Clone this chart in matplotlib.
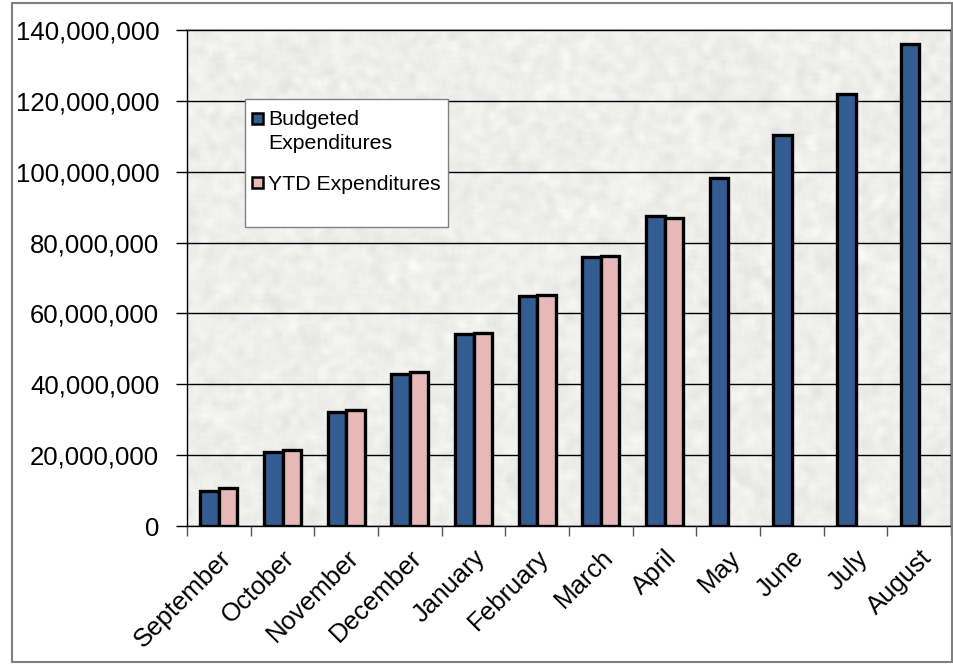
import numpy as np
import matplotlib.pyplot as plt
from matplotlib.patches import Rectangle
from matplotlib.ticker import FuncFormatter, FixedLocator

plt.rcParams['font.family'] = ['Liberation Sans', 'DejaVu Sans']

months = ['September', 'October', 'November', 'December', 'January', 'February',
          'March', 'April', 'May', 'June', 'July', 'August']
budgeted = [9.9e6, 20.9e6, 32.2e6, 42.9e6, 54.2e6, 64.9e6,
            75.9e6, 87.5e6, 98.2e6, 110.4e6, 121.9e6, 136.0e6]
ytd = [10.7e6, 21.4e6, 32.7e6, 43.5e6, 54.5e6, 65.2e6, 76.2e6, 86.9e6]
legend_labels = ['Budgeted', 'Expenditures', 'YTD Expenditures']

blue = '#335d92'
pink = '#e6b8b8'

W, H = 954, 664
fig = plt.figure(figsize=(W / 100, H / 100), dpi=100)
ax = fig.add_axes([0.196, 0.2078, 0.801, 0.747])


def px(x, y):
    # pixel position (from top-left) -> figure fraction
    return x / W, 1 - y / H


# outer frame around the whole chart
fig.patches.append(Rectangle((12 / W, 2 / H), 940 / W, 659 / H, transform=fig.transFigure,
                             fill=False, edgecolor='#808080', linewidth=1.5))

# granite-like texture for the plot area (decoration only)
rng = np.random.default_rng(3)
tex = rng.normal(0, 1, (160, 240))
k = np.ones(3) / 3
tex = np.apply_along_axis(lambda r: np.convolve(r, k, mode='same'), 1, tex)
tex = np.apply_along_axis(lambda c: np.convolve(c, k, mode='same'), 0, tex)
tex = 0.935 + 0.04 * tex
ax.imshow(np.dstack([tex, tex, tex * 0.995]).clip(0, 1), extent=(-0.5, 11.5, 0, 140e6),
          aspect='auto', zorder=0, interpolation='bilinear')

x = np.arange(len(months))
w = 0.29
ax.bar(x - w / 2, budgeted, w, color=blue, edgecolor='black', linewidth=2.4, zorder=3)
ax.bar(x[:len(ytd)] + w / 2, ytd, w, color=pink, edgecolor='black', linewidth=2.4, zorder=3)

ax.set_xlim(-0.5, 11.5)
ax.set_ylim(0, 140e6)
ax.set_yticks(np.arange(0, 140e6 + 1, 20e6))
ax.yaxis.set_major_formatter(FuncFormatter(lambda v, p: f'{int(v):,}'))
ax.grid(axis='y', color='black', linewidth=1, zorder=1)
ax.set_axisbelow(False)

ax.set_xticks(x)
ax.set_xticklabels(months, rotation=45, ha='right', rotation_mode='anchor')
ax.xaxis.set_minor_locator(FixedLocator(np.arange(-0.5, 11.6, 1)))
ax.tick_params(axis='x', which='major', length=0, pad=14, labelsize=18.5)
ax.tick_params(axis='x', which='minor', length=7, width=1, color='#555555')
ax.tick_params(axis='y', length=8, width=1, labelsize=18.5, pad=12)

for s in ['top', 'right']:
    ax.spines[s].set_color('#999999')
    ax.spines[s].set_linewidth(1.5)
ax.spines['left'].set_linewidth(1)
ax.spines['bottom'].set_linewidth(1)

# legend box drawn by hand so the marker sits on the first line, as in Excel
x0, y0 = px(245, 227)
x1, y1 = px(448, 99)
fig.patches.append(Rectangle((x0, y0), x1 - x0, y1 - y0, transform=fig.transFigure,
                             facecolor='white', edgecolor='#808080', linewidth=1, zorder=5))
for color, top in [(blue, 112), (pink, 176)]:
    mx, my = px(252, top + 12)
    fig.patches.append(Rectangle((mx, my), 11 / W, 11 / H, transform=fig.transFigure,
                                 facecolor=color, edgecolor='black', linewidth=1.8, zorder=6))
for label, base in zip(legend_labels, [125, 149, 190]):
    tx, ty = px(268, base)
    fig.text(tx, ty, label, fontsize=15.3, va='baseline', ha='left', zorder=7)

fig.savefig('out.png', dpi=100)
